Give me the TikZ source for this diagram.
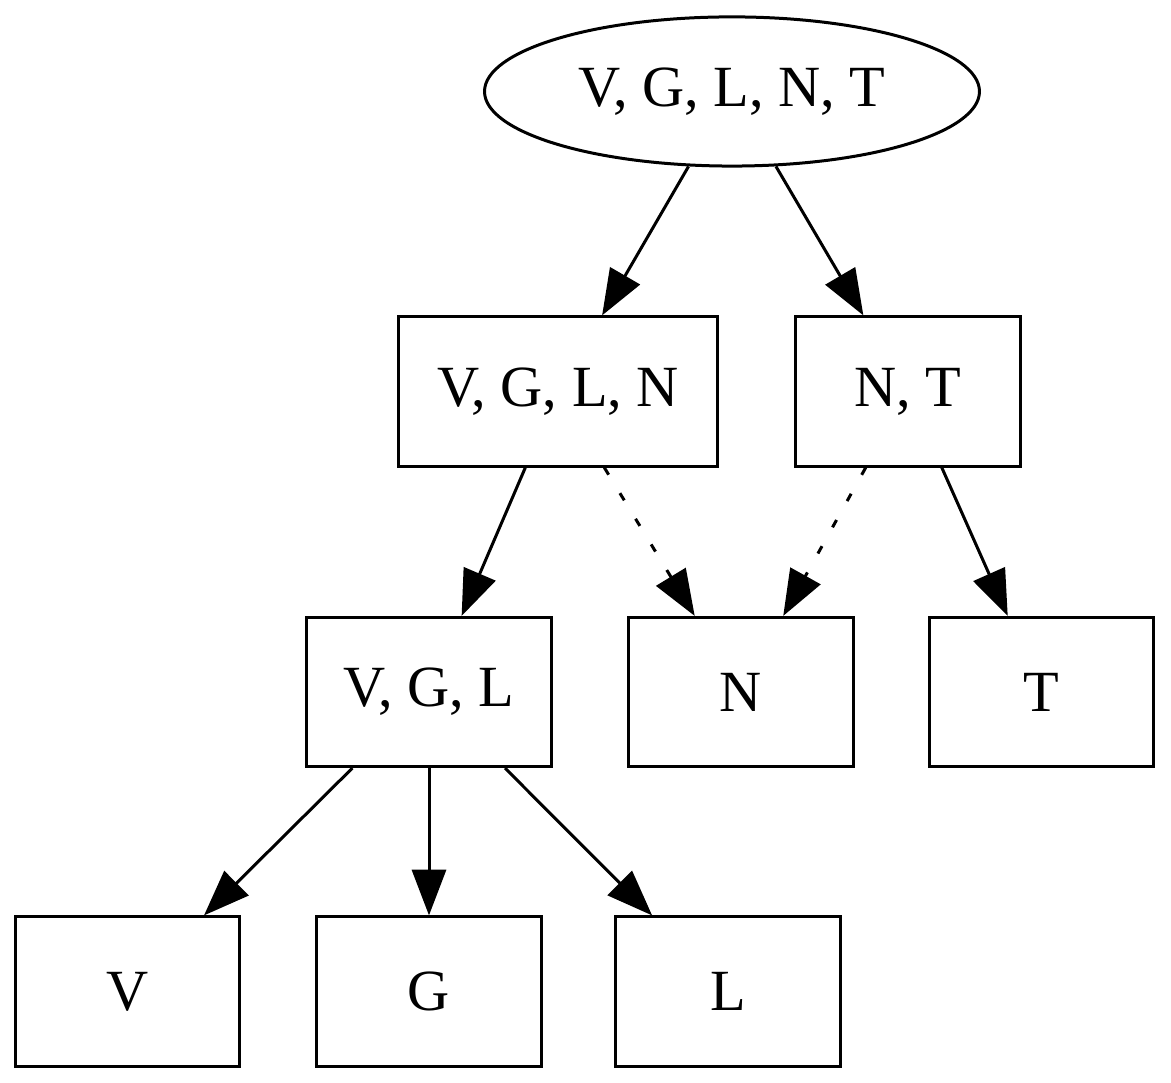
\documentclass[tikz,border=0pt]{standalone}
\usepackage{fontspec}
\setmainfont{Liberation Serif}
\usetikzlibrary{arrows.meta,shapes.geometric}
\begin{document}
\begin{tikzpicture}[x=0.24pt,y=-0.24pt,
  every node/.style={font=\fontsize{14pt}{16pt}\selectfont, line width=0.72pt, inner sep=0pt},
  box/.style={draw, rectangle, minimum height=35.8pt},
  oval/.style={draw, ellipse, minimum width=118.8pt, minimum height=35.8pt},
  edge/.style={line width=0.72pt, -{Triangle[length=11pt,width=8.2pt]}},
  dotedge/.style={edge, dash pattern=on 2pt off 5.2pt}]
  \useasboundingbox (0,0) rectangle (1171,1083);
  % nodes
  \node[oval] (root) at (732,91.5) {V, G, L, N, T};
  \node[box, minimum width=76.8pt] (vgln) at (558,391.5) {V, G, L, N};
  \node[box, minimum width=53.8pt] (nt) at (908,391.5) {N, T};
  \node[box, minimum width=59pt] (vgl) at (429,692) {V, G, L};
  \node[box, minimum width=53.8pt] (n) at (741,692) {N};
  \node[box, minimum width=54pt] (t) at (1041.5,692) {T};
  \node[box, minimum width=54pt] (v) at (127.5,991.5) {V};
  \node[box, minimum width=53.8pt] (g) at (429,991.5) {G};
  \node[box, minimum width=53.8pt] (l) at (728,991.5) {L};
  % connectors
  \draw[edge] (root) -- (vgln);
  \draw[edge] (root) -- (nt);
  \draw[edge] (vgln) -- (vgl);
  \draw[dotedge] (vgln) -- (n);
  \draw[dotedge] (nt) -- (n);
  \draw[edge] (nt) -- (t);
  \draw[edge] (vgl) -- (v);
  \draw[edge] (vgl) -- (g);
  \draw[edge] (vgl) -- (l);
\end{tikzpicture}
\end{document}
